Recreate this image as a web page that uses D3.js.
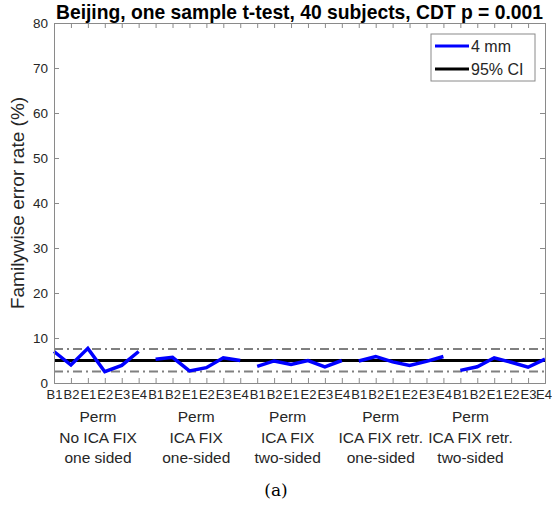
<!DOCTYPE html>
<html>
<head>
<meta charset="utf-8">
<script src="https://cdn.jsdelivr.net/npm/d3@7"></script>
<style>
  body { margin: 0; background: #fff; }
  svg { display: block; font-family: "Liberation Sans", Arial, sans-serif; }
</style>
</head>
<body>
<div id="chart"></div>
<script>
// dati
const tickNames = ["B1", "B2", "E1", "E2", "E3", "E4"];
const groupLines = [
  ["Perm", "No ICA FIX", "one sided"],
  ["Perm", "ICA FIX", "one-sided"],
  ["Perm", "ICA FIX", "two-sided"],
  ["Perm", "ICA FIX retr.", "one-sided"],
  ["Perm", "ICA FIX retr.", "two-sided"]
];
// posizione (in unita' dell'asse x) delle etichette di gruppo
const groupLabelPos = [3.6, 9.4, 14.8, 20.3, 25.6];
const fwe4mm = [
  [7.0, 4.0, 7.7, 2.5, 3.9, 7.0],
  [5.3, 5.7, 2.7, 3.4, 5.6, 5.0],
  [3.7, 4.9, 4.1, 5.0, 3.6, 5.0],
  [4.9, 5.9, 4.7, 3.9, 4.8, 5.9],
  [2.8, 3.6, 5.6, 4.6, 3.5, 5.3]
];
const ciMid = 5;
const ciBounds = [7.55, 2.55];
const yTicks = [0, 10, 20, 30, 40, 50, 60, 70, 80];

const W = 552, H = 510;
const margin = { top: 23, right: 7, bottom: 127, left: 54 };
const pw = W - margin.left - margin.right;
const ph = H - margin.top - margin.bottom;
const nGroups = fwe4mm.length, nPer = tickNames.length;
const nTot = nGroups * nPer;

const svg = d3.select("#chart").append("svg").attr("width", W).attr("height", H);
const g = svg.append("g").attr("transform", `translate(${margin.left},${margin.top})`);

const x = d3.scaleLinear().domain([1, nTot]).range([0, pw]);
const y = d3.scaleLinear().domain([0, 80]).range([ph, 0]);

const textCol = "#262626", axisCol = "#8a8a8a";
const xs = d3.range(1, nTot + 1);

// linee CI
g.append("line")
  .attr("x1", x(1)).attr("x2", x(nTot))
  .attr("y1", y(ciMid)).attr("y2", y(ciMid))
  .attr("stroke", "#000").attr("stroke-width", 3.2);
ciBounds.forEach(b => {
  g.append("line")
    .attr("x1", x(1)).attr("x2", x(nTot))
    .attr("y1", y(b)).attr("y2", y(b))
    .attr("stroke", "#808080").attr("stroke-width", 2)
    .attr("stroke-dasharray", "9,4,2,4");
});

// serie 4 mm, un tratto per gruppo
const line = d3.line().x(d => x(d[0])).y(d => y(d[1]));
fwe4mm.forEach((vals, gi) => {
  const pts = vals.map((v, i) => [gi * nPer + i + 1, v]);
  g.append("path").datum(pts)
    .attr("d", line)
    .attr("fill", "none")
    .attr("stroke", "#0000ff")
    .attr("stroke-width", 3.5)
    .attr("stroke-linejoin", "miter");
});

// assi con box
const tl = 5;
const axB = g.append("g").attr("transform", `translate(0,${ph})`)
  .call(d3.axisBottom(x).tickValues(xs).tickSize(-tl).tickPadding(4)
    .tickFormat(d => tickNames[(d - 1) % nPer]));
const axT = g.append("g")
  .call(d3.axisTop(x).tickValues(xs).tickSize(-tl).tickFormat(""));
const axL = g.append("g")
  .call(d3.axisLeft(y).tickValues(yTicks).tickSize(-tl).tickPadding(6));
const axR = g.append("g").attr("transform", `translate(${pw},0)`)
  .call(d3.axisRight(y).tickValues(yTicks).tickSize(-tl).tickFormat(""));

[axB, axT, axL, axR].forEach(a => {
  a.select(".domain").attr("stroke", axisCol).attr("stroke-width", 1);
  a.selectAll(".tick line").attr("stroke", axisCol);
  a.selectAll("text").attr("fill", textCol).style("font-size", "13.5px")
    .style("font-family", "Liberation Sans, Arial, sans-serif");
});
axB.selectAll("text").attr("dy", "0.95em").style("font-size", "13px");
// l'ultima etichetta tocca il bordo: la sposto un poco a sinistra
axB.selectAll("text").filter(d => d === nTot).attr("dx", "-1.5");
// niente tacca a 0 e 80 ai bordi del box
axL.selectAll(".tick line").filter(d => d === 0 || d === 80).remove();
axR.selectAll(".tick line").filter(d => d === 0 || d === 80).remove();

// etichette di gruppo
groupLines.forEach((lines, gi) => {
  const t = g.append("text")
    .attr("text-anchor", "middle")
    .attr("fill", textCol)
    .style("font-size", "15.5px");
  lines.forEach((s, li) => {
    t.append("tspan")
      .attr("x", x(groupLabelPos[gi]))
      .attr("y", ph + 39 + li * 20.5)
      .text(s);
  });
});

// titolo
svg.append("text")
  .attr("x", margin.left + pw / 2).attr("y", 19)
  .attr("text-anchor", "middle")
  .style("font-size", "19.3px").style("font-weight", "bold")
  .attr("fill", "#000")
  .text("Beijing, one sample t-test, 40 subjects, CDT p = 0.001");

// etichetta asse y
svg.append("text")
  .attr("transform", `translate(24,${margin.top + ph / 2}) rotate(-90)`)
  .attr("text-anchor", "middle")
  .style("font-size", "19px")
  .attr("fill", textCol)
  .text("Familywise error rate (%)");

// legenda
const lg = g.append("g").attr("transform", `translate(${pw - 114},${11})`);
lg.append("rect").attr("width", 104).attr("height", 47)
  .attr("fill", "#fff").attr("stroke", axisCol).attr("stroke-width", 1);
const legendItems = [["4 mm", "#0000ff"], ["95% CI", "#000"]];
legendItems.forEach((it, i) => {
  const yy = 12 + i * 23;
  lg.append("line").attr("x1", 4).attr("x2", 38).attr("y1", yy).attr("y2", yy)
    .attr("stroke", it[1]).attr("stroke-width", 3);
  lg.append("text").attr("x", 40).attr("y", yy).attr("dy", "0.35em")
    .style("font-size", "16px").attr("fill", textCol).text(it[0]);
});

// didascalia
svg.append("text")
  .attr("x", 276).attr("y", 496)
  .attr("text-anchor", "middle")
  .style("font-family", "DejaVu Serif, Liberation Serif, serif")
  .style("font-size", "17px")
  .attr("fill", "#000")
  .text("(a)");
</script>
</body>
</html>
